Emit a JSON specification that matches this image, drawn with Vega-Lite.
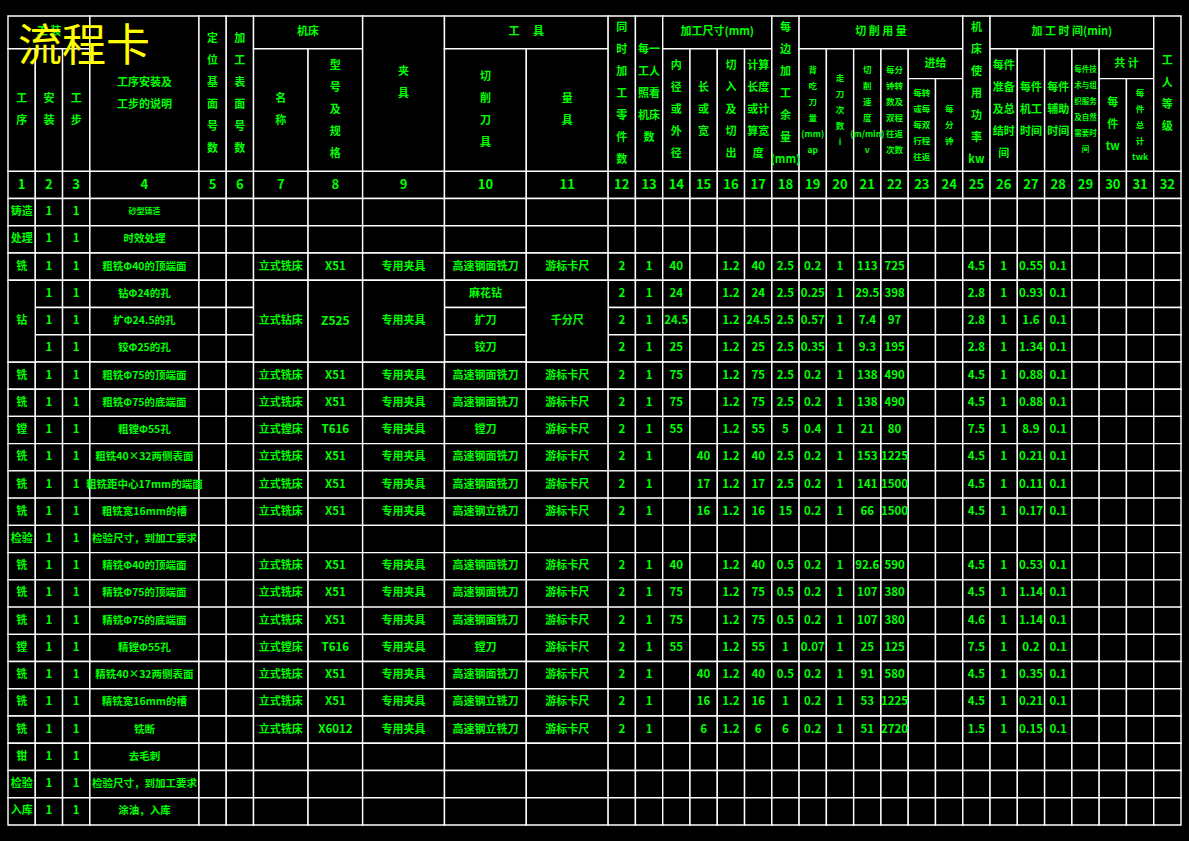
{
  "$schema": "https://vega.github.io/schema/vega-lite/v6.json",
  "width": 1189,
  "height": 841,
  "padding": 0,
  "autosize": {"type": "none"},
  "background": "black",
  "config": {"view": {"stroke": null}},
  "title": {"text": "流程卡", "anchor": "start", "frame": "group", "orient": "top", "offset": -70, "dx": 18, "color": "#FFFF00", "fontSize": 44, "font": "Noto Sans CJK SC", "fontWeight": "normal"},
  "datasets": {
    "cols": [
      {"c":1,"a":0,"b":1},{"c":2,"a":1,"b":2},{"c":3,"a":2,"b":3},{"c":4,"a":3,"b":7},{"c":5,"a":7,"b":8},{"c":6,"a":8,"b":9},{"c":7,"a":9,"b":11},{"c":8,"a":11,"b":13},{"c":9,"a":13,"b":16},{"c":10,"a":16,"b":19},{"c":11,"a":19,"b":22},{"c":12,"a":22,"b":23},{"c":13,"a":23,"b":24},{"c":14,"a":24,"b":25},{"c":15,"a":25,"b":26},{"c":16,"a":26,"b":27},{"c":17,"a":27,"b":28},{"c":18,"a":28,"b":29},{"c":19,"a":29,"b":30},{"c":20,"a":30,"b":31},{"c":21,"a":31,"b":32},{"c":22,"a":32,"b":33},{"c":23,"a":33,"b":34},{"c":24,"a":34,"b":35},{"c":25,"a":35,"b":36},{"c":26,"a":36,"b":37},{"c":27,"a":37,"b":38},{"c":28,"a":38,"b":39},{"c":29,"a":39,"b":40},{"c":30,"a":40,"b":41},{"c":31,"a":41,"b":42},{"c":32,"a":42,"b":43}
    ],
    "body": [
      {"r":-1,"v":["1","2","3","4","5","6","7","8","9","10","11","12","13","14","15","16","17","18","19","20","21","22","23","24","25","26","27","28","29","30","31","32"]},
      {"r":0,"v":["铸造","1","1","砂型铸造","","","","","","","","","","","","","","","","","","","","","","","","","","","",""]},
      {"r":1,"v":["处理","1","1","时效处理","","","","","","","","","","","","","","","","","","","","","","","","","","","",""]},
      {"r":2,"v":["铣","1","1","粗铣Φ40的顶端面","","","立式铣床","X51","专用夹具","高速钢面铣刀","游标卡尺","2","1","40","","1.2","40","2.5","0.2","1","113","725","","","4.5","1","0.55","0.1","","","",""]},
      {"r":3,"v":[null,"1","1","钻Φ24的孔","","",null,null,null,"麻花钻",null,"2","1","24","","1.2","24","2.5","0.25","1","29.5","398","","","2.8","1","0.93","0.1","","","",""]},
      {"r":4,"v":[null,"1","1","扩Φ24.5的孔","","",null,null,null,"扩刀",null,"2","1","24.5","","1.2","24.5","2.5","0.57","1","7.4","97","","","2.8","1","1.6","0.1","","","",""]},
      {"r":5,"v":[null,"1","1","铰Φ25的孔","","",null,null,null,"铰刀",null,"2","1","25","","1.2","25","2.5","0.35","1","9.3","195","","","2.8","1","1.34","0.1","","","",""]},
      {"r":6,"v":["铣","1","1","粗铣Φ75的顶端面","","","立式铣床","X51","专用夹具","高速钢面铣刀","游标卡尺","2","1","75","","1.2","75","2.5","0.2","1","138","490","","","4.5","1","0.88","0.1","","","",""]},
      {"r":7,"v":["铣","1","1","粗铣Φ75的底端面","","","立式铣床","X51","专用夹具","高速钢面铣刀","游标卡尺","2","1","75","","1.2","75","2.5","0.2","1","138","490","","","4.5","1","0.88","0.1","","","",""]},
      {"r":8,"v":["镗","1","1","粗镗Φ55孔","","","立式镗床","T616","专用夹具","镗刀","游标卡尺","2","1","55","","1.2","55","5","0.4","1","21","80","","","7.5","1","8.9","0.1","","","",""]},
      {"r":9,"v":["铣","1","1","粗铣40×32两侧表面","","","立式铣床","X51","专用夹具","高速钢面铣刀","游标卡尺","2","1","","40","1.2","40","2.5","0.2","1","153","1225","","","4.5","1","0.21","0.1","","","",""]},
      {"r":10,"v":["铣","1","1","粗铣距中心17mm的端面","","","立式铣床","X51","专用夹具","高速钢面铣刀","游标卡尺","2","1","","17","1.2","17","2.5","0.2","1","141","1500","","","4.5","1","0.11","0.1","","","",""]},
      {"r":11,"v":["铣","1","1","粗铣宽16mm的槽","","","立式铣床","X51","专用夹具","高速钢立铣刀","游标卡尺","2","1","","16","1.2","16","15","0.2","1","66","1500","","","4.5","1","0.17","0.1","","","",""]},
      {"r":12,"v":["检验","1","1","检验尺寸，到加工要求","","","","","","","","","","","","","","","","","","","","","","","","","","","",""]},
      {"r":13,"v":["铣","1","1","精铣Φ40的顶端面","","","立式铣床","X51","专用夹具","高速钢面铣刀","游标卡尺","2","1","40","","1.2","40","0.5","0.2","1","92.6","590","","","4.5","1","0.53","0.1","","","",""]},
      {"r":14,"v":["铣","1","1","精铣Φ75的顶端面","","","立式铣床","X51","专用夹具","高速钢面铣刀","游标卡尺","2","1","75","","1.2","75","0.5","0.2","1","107","380","","","4.5","1","1.14","0.1","","","",""]},
      {"r":15,"v":["铣","1","1","精铣Φ75的底端面","","","立式铣床","X51","专用夹具","高速钢面铣刀","游标卡尺","2","1","75","","1.2","75","0.5","0.2","1","107","380","","","4.6","1","1.14","0.1","","","",""]},
      {"r":16,"v":["镗","1","1","精镗Φ55孔","","","立式镗床","T616","专用夹具","镗刀","游标卡尺","2","1","55","","1.2","55","1","0.07","1","25","125","","","7.5","1","0.2","0.1","","","",""]},
      {"r":17,"v":["铣","1","1","精铣40×32两侧表面","","","立式铣床","X51","专用夹具","高速钢面铣刀","游标卡尺","2","1","","40","1.2","40","0.5","0.2","1","91","580","","","4.5","1","0.35","0.1","","","",""]},
      {"r":18,"v":["铣","1","1","精铣宽16mm的槽","","","立式铣床","X51","专用夹具","高速钢立铣刀","游标卡尺","2","1","","16","1.2","16","1","0.2","1","53","1225","","","4.5","1","0.21","0.1","","","",""]},
      {"r":19,"v":["铣","1","1","铣断","","","立式铣床","X6012","专用夹具","高速钢立铣刀","游标卡尺","2","1","","6","1.2","6","6","0.2","1","51","2720","","","1.5","1","0.15","0.1","","","",""]},
      {"r":20,"v":["钳","1","1","去毛刺","","","","","","","","","","","","","","","","","","","","","","","","","","","",""]},
      {"r":21,"v":["检验","1","1","检验尺寸，到加工要求","","","","","","","","","","","","","","","","","","","","","","","","","","","",""]},
      {"r":22,"v":["入库","1","1","涂油，入库","","","","","","","","","","","","","","","","","","","","","","","","","","","",""]}
    ],
    "hdr": [
      {"x0":0,"x1":3,"y0":-6.7,"y1":-5.5,"t":"工 装"},
      {"x0":0,"x1":1,"y0":-5.5,"y1":-1,"t":["工","序"]},
      {"x0":1,"x1":2,"y0":-5.5,"y1":-1,"t":["安","装"]},
      {"x0":2,"x1":3,"y0":-5.5,"y1":-1,"t":["工","步"]},
      {"x0":3,"x1":7,"y0":-6.7,"y1":-1,"t":["工序安装及","工步的说明"]},
      {"x0":7,"x1":8,"y0":-6.7,"y1":-1,"t":["定","位","基","面","号","数"]},
      {"x0":8,"x1":9,"y0":-6.7,"y1":-1,"t":["加","工","表","面","号","数"]},
      {"x0":9,"x1":13,"y0":-6.7,"y1":-5.5,"t":"机床"},
      {"x0":9,"x1":11,"y0":-5.5,"y1":-1,"t":["名","称"]},
      {"x0":11,"x1":13,"y0":-5.5,"y1":-1,"t":["型","号","及","规","格"]},
      {"x0":13,"x1":16,"y0":-6.7,"y1":-1,"t":["夹","","具"]},
      {"x0":16,"x1":22,"y0":-6.7,"y1":-5.5,"t":"工　 具"},
      {"x0":16,"x1":19,"y0":-5.5,"y1":-1,"t":["切","削","刀","具"]},
      {"x0":19,"x1":22,"y0":-5.5,"y1":-1,"t":["量","具"]},
      {"x0":22,"x1":23,"y0":-6.7,"y1":-1,"t":["同","时","加","工","零","件","数"]},
      {"x0":23,"x1":24,"y0":-6.7,"y1":-1,"t":["每一","工人","照看","机床","数"]},
      {"x0":24,"x1":28,"y0":-6.7,"y1":-5.5,"t":"加工尺寸(mm)"},
      {"x0":24,"x1":25,"y0":-5.5,"y1":-1,"t":["内","径","或","外","径"]},
      {"x0":25,"x1":26,"y0":-5.5,"y1":-1,"t":["长","或","宽"]},
      {"x0":26,"x1":27,"y0":-5.5,"y1":-1,"t":["切","入","及","切","出"]},
      {"x0":27,"x1":28,"y0":-5.5,"y1":-1,"t":["计算","长度","或计","算宽","度"]},
      {"x0":28,"x1":29,"y0":-6.7,"y1":-1,"t":["每","边","加","工","余","量","(mm)"]},
      {"x0":29,"x1":35,"y0":-6.7,"y1":-5.5,"t":"切  削  用  量"},
      {"x0":29,"x1":30,"y0":-5.5,"y1":-1,"t":["背","吃","刀","量","(mm)","ap"]},
      {"x0":30,"x1":31,"y0":-5.5,"y1":-1,"t":["走","刀","次","数","i"]},
      {"x0":31,"x1":32,"y0":-5.5,"y1":-1,"t":["切","削","速","度","(m/min)","v"]},
      {"x0":32,"x1":33,"y0":-5.5,"y1":-1,"t":["每分","钟转","数及","双程","往返","次数"]},
      {"x0":33,"x1":35,"y0":-5.5,"y1":-4.4,"t":"进给"},
      {"x0":33,"x1":34,"y0":-4.4,"y1":-1,"t":["每转","或每","每双","行程","往返"]},
      {"x0":34,"x1":35,"y0":-4.4,"y1":-1,"t":["每","分","钟"]},
      {"x0":35,"x1":36,"y0":-6.7,"y1":-1,"t":["机","床","使","用","功","率","kw"]},
      {"x0":36,"x1":42,"y0":-6.7,"y1":-5.5,"t":"加 工 时 间(min)"},
      {"x0":36,"x1":37,"y0":-5.5,"y1":-1,"t":["每件","准备","及总","结时","间"]},
      {"x0":37,"x1":38,"y0":-5.5,"y1":-1,"t":["每件","机工","时间"]},
      {"x0":38,"x1":39,"y0":-5.5,"y1":-1,"t":["每件","辅助","时间"]},
      {"x0":39,"x1":40,"y0":-5.5,"y1":-1,"t":["每件技","术与组","织服务","及自然","需要时","间"]},
      {"x0":40,"x1":42,"y0":-5.5,"y1":-4.4,"t":"共 计"},
      {"x0":40,"x1":41,"y0":-4.4,"y1":-1,"t":["每","件","tw"]},
      {"x0":41,"x1":42,"y0":-4.4,"y1":-1,"t":["每","件","总","计","twk"]},
      {"x0":42,"x1":43,"y0":-6.7,"y1":-1,"t":["工","人","等","级"]},
      {"x0":0,"x1":1,"y0":3,"y1":6,"t":"钻"},
      {"x0":9,"x1":11,"y0":3,"y1":6,"t":"立式钻床"},
      {"x0":11,"x1":13,"y0":3,"y1":6,"t":"Z525"},
      {"x0":13,"x1":16,"y0":3,"y1":6,"t":"专用夹具"},
      {"x0":19,"x1":22,"y0":3,"y1":6,"t":"千分尺"}
    ]
  },
  "layer": [
    {
      "data": {"name": "body"},
      "transform": [
        {"flatten": ["v"], "as": ["t"]},
        {"window": [{"op": "row_number", "as": "c"}], "groupby": ["r"]},
        {"filter": "datum.t !== null"},
        {"lookup": "c", "from": {"data": {"name": "cols"}, "key": "c", "fields": ["a", "b"]}},
        {"calculate": "datum.r + 1", "as": "r2"}
      ],
      "mark": {"type": "rect", "fill": "black", "stroke": "white", "strokeWidth": 1.4},
      "encoding": {
        "x": {"field": "a", "type": "quantitative", "scale": {"domain": [0, 43], "range": [8, 1181]}, "axis": null},
        "x2": {"field": "b"},
        "y": {"field": "r", "type": "quantitative", "scale": {"domain": [-6.7, 23], "range": [16, 825]}, "axis": null},
        "y2": {"field": "r2"}
      }
    },
    {
      "data": {"name": "hdr"},
      "mark": {"type": "rect", "fill": "black", "stroke": "white", "strokeWidth": 1.4},
      "encoding": {
        "x": {"field": "x0", "type": "quantitative", "scale": {"domain": [0, 43], "range": [8, 1181]}, "axis": null},
        "x2": {"field": "x1"},
        "y": {"field": "y0", "type": "quantitative", "scale": {"domain": [-6.7, 23], "range": [16, 825]}, "axis": null},
        "y2": {"field": "y1"}
      }
    },
    {
      "data": {"name": "body"},
      "transform": [
        {"flatten": ["v"], "as": ["t"]},
        {"window": [{"op": "row_number", "as": "c"}], "groupby": ["r"]},
        {"filter": "datum.t !== null && datum.t !== ''"},
        {"lookup": "c", "from": {"data": {"name": "cols"}, "key": "c", "fields": ["a", "b"]}},
        {"calculate": "(datum.a + datum.b) / 2", "as": "xm"},
        {"calculate": "datum.r + 0.5", "as": "ym"}
      ],
      "mark": {"type": "text", "align": "center", "baseline": "middle", "fill": "#00FF00", "font": "Noto Sans CJK SC", "fontWeight": "bold"},
      "encoding": {
        "x": {"field": "xm", "type": "quantitative", "scale": {"domain": [0, 43], "range": [8, 1181]}, "axis": null},
        "y": {"field": "ym", "type": "quantitative", "scale": {"domain": [-6.7, 23], "range": [16, 825]}, "axis": null},
        "text": {"field": "t", "type": "nominal"},
        "size": {"condition": [
          {"test": "datum.r == -1", "value": 13},
          {"test": "datum.r == 0 && datum.c == 4", "value": 8},
          {"test": "datum.c == 4", "value": 10.5},
          {"test": "test(regexp('^[-0-9A-Za-z.]+$'), datum.t)", "value": 11.5}
        ], "value": 11}
      }
    },
    {
      "data": {"name": "hdr"},
      "transform": [
        {"filter": "!(datum.y1 == -1 && datum.y0 >= -5.5 && ((datum.x0 >= 29 && datum.x0 < 35) || datum.x0 == 39 || datum.x0 == 41))"},
        {"calculate": "(datum.x0 + datum.x1) / 2", "as": "xm"},
        {"calculate": "(datum.y0 + datum.y1) / 2 - (isArray(datum.t) ? length(datum.t) - 1 : 0) * 0.4038", "as": "ym"}
      ],
      "mark": {"type": "text", "align": "center", "baseline": "middle", "fill": "#00FF00", "font": "Noto Sans CJK SC", "fontWeight": "bold", "lineHeight": 22, "lineBreak": "\n"},
      "encoding": {
        "x": {"field": "xm", "type": "quantitative", "scale": {"domain": [0, 43], "range": [8, 1181]}, "axis": null},
        "y": {"field": "ym", "type": "quantitative", "scale": {"domain": [-6.7, 23], "range": [16, 825]}, "axis": null},
        "text": {"field": "t", "type": "nominal"},
        "size": {"condition": [
          {"test": "test(regexp('^[-0-9A-Za-z.]+$'), datum.t)", "value": 12}
        ], "value": 11}
      }
    },
    {
      "data": {"name": "hdr"},
      "transform": [
        {"filter": "datum.y1 == -1 && datum.y0 >= -5.5 && ((datum.x0 >= 29 && datum.x0 < 35) || datum.x0 == 39 || datum.x0 == 41)"},
        {"calculate": "(datum.x0 + datum.x1) / 2", "as": "xm"},
        {"calculate": "(datum.y0 + datum.y1) / 2 - (isArray(datum.t) ? length(datum.t) - 1 : 0) * 0.2937", "as": "ym"}
      ],
      "mark": {"type": "text", "align": "center", "baseline": "middle", "fill": "#00FF00", "font": "Noto Sans CJK SC", "fontWeight": "bold", "lineHeight": 16, "lineBreak": "\n"},
      "encoding": {
        "x": {"field": "xm", "type": "quantitative", "scale": {"domain": [0, 43], "range": [8, 1181]}, "axis": null},
        "y": {"field": "ym", "type": "quantitative", "scale": {"domain": [-6.7, 23], "range": [16, 825]}, "axis": null},
        "text": {"field": "t", "type": "nominal"},
        "size": {"condition": [
          {"test": "datum.x0 == 39", "value": 7.5}
        ], "value": 8.5}
      }
    }
  ]
}
